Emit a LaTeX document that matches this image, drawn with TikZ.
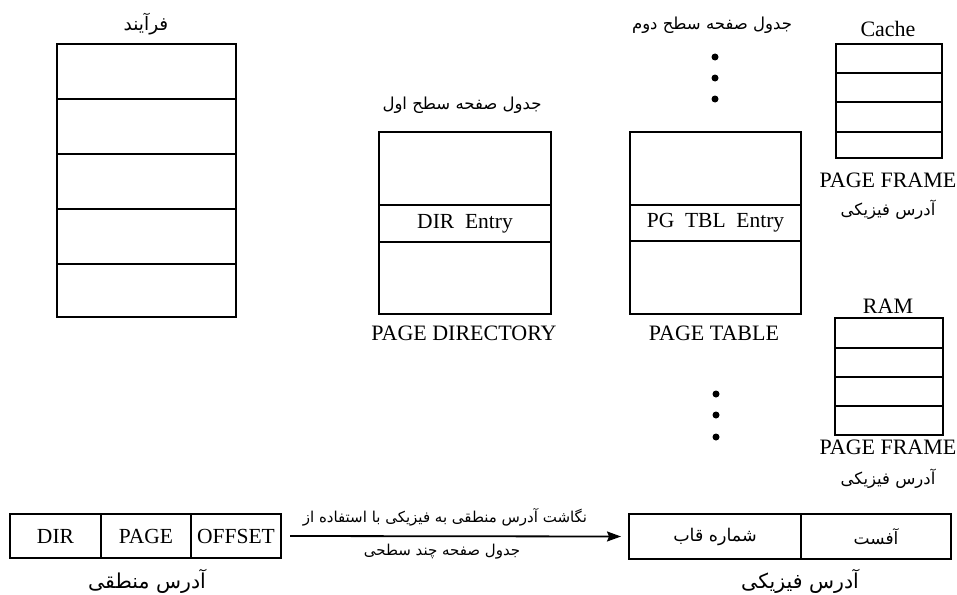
\documentclass[tikz,border=0pt]{standalone}
\usepackage{fontspec}
\setmainfont{Liberation Serif}
\newfontfamily\arabicfont[Script=Arabic]{DejaVu Sans}
\TeXXeTstate=1
\usetikzlibrary{arrows.meta}
\newcommand{\fa}[1]{{\arabicfont\beginR #1\endR}}
\begin{document}
\begin{tikzpicture}[x=1pt,y=-1pt,
  cell/.style={draw,line width=2pt,inner sep=0pt,anchor=north west,font=\fontsize{21.5}{24}\selectfont},
  lat/.style={font=\fontsize{22}{25}\selectfont,inner sep=0pt},
  per/.style={font=\fontsize{16.5}{19}\selectfont\arabicfont,inner sep=0pt},
  perbig/.style={font=\fontsize{20.5}{23}\selectfont\arabicfont,inner sep=0pt},
  dot/.style={circle,fill,inner sep=0pt,minimum size=7pt}]
\useasboundingbox (0,0) rectangle (957,594);
% process
\node[per,font=\fontsize{18.5}{21}\selectfont\arabicfont] (ptitle) at (146,24) {\fa{فرآیند}};
\node[cell,minimum width=179pt,minimum height=55pt] (p1) at (56,43) {};
\node[cell,minimum width=179pt,minimum height=55pt] (p2) at (56,98) {};
\node[cell,minimum width=179pt,minimum height=55pt] (p3) at (56,153) {};
\node[cell,minimum width=179pt,minimum height=55pt] (p4) at (56,208) {};
\node[cell,minimum width=179pt,minimum height=53pt] (p5) at (56,263) {};
% page directory
\node[per] (dtitle) at (462,105) {\fa{جدول صفحه سطح اول}};
\node[cell,minimum width=172pt,minimum height=73pt] (d1) at (378,131) {};
\node[cell,minimum width=172pt,minimum height=37pt] (d2) at (378,204) {DIR\ \ Entry};
\node[cell,minimum width=172pt,minimum height=72pt] (d3) at (378,241) {};
\node[lat] (dlab) at (464,333) {PAGE DIRECTORY};
% page table
\node[per] (ttitle) at (712,25) {\fa{جدول صفحه سطح دوم}};
\node[dot] (td1) at (715,57) {};
\node[dot] (td2) at (715,78) {};
\node[dot] (td3) at (715,99) {};
\node[cell,minimum width=171pt,minimum height=73pt] (t1) at (629,131) {};
\node[cell,minimum width=171pt,minimum height=36pt] (t2) at (629,204) {PG\ \ TBL\ \ Entry};
\node[cell,minimum width=171pt,minimum height=73pt] (t3) at (629,240) {};
\node[lat] (tlab) at (714,333) {PAGE TABLE};
\node[dot] (bd1) at (716,394) {};
\node[dot] (bd2) at (716,415) {};
\node[dot] (bd3) at (716,437) {};
% cache
\node[lat] (ctitle) at (888,29) {Cache};
\node[cell,minimum width=106pt,minimum height=29pt] (c1) at (835,43) {};
\node[cell,minimum width=106pt,minimum height=29pt] (c2) at (835,72) {};
\node[cell,minimum width=106pt,minimum height=30pt] (c3) at (835,101) {};
\node[cell,minimum width=106pt,minimum height=26pt] (c4) at (835,131) {};
\node[lat] (cpf) at (888,180) {PAGE FRAME};
\node[per] (cpa) at (888,210) {\fa{آدرس فیزیکی}};
% ram
\node[lat] (rtitle) at (888,306) {RAM};
\node[cell,minimum width=108pt,minimum height=30pt] (r1) at (834,317) {};
\node[cell,minimum width=108pt,minimum height=29pt] (r2) at (834,347) {};
\node[cell,minimum width=108pt,minimum height=29pt] (r3) at (834,376) {};
\node[cell,minimum width=108pt,minimum height=29pt] (r4) at (834,405) {};
\node[lat] (rpf) at (888,447) {PAGE FRAME};
\node[per] (rpa) at (888,479) {\fa{آدرس فیزیکی}};
% logical address
\node[cell,minimum width=91pt,minimum height=44pt] (la1) at (9,513) {DIR};
\node[cell,minimum width=90pt,minimum height=44pt] (la2) at (100,513) {PAGE};
\node[cell,minimum width=90pt,minimum height=44pt] (la3) at (190,513) {OFFSET};
\node[perbig] (lalab) at (147,581) {\fa{آدرس منطقی}};
% physical address
\node[cell,minimum width=172pt,minimum height=45pt] (pa1) at (628,513) {\fontsize{17.5}{20}\selectfont\fa{شماره قاب}};
\node[cell,minimum width=150pt,minimum height=45pt] (pa2) at (800,513) {\fontsize{17}{20}\selectfont\fa{آفست}};
\node[perbig] (palab) at (800,581) {\fa{آدرس فیزیکی}};
% arrow
\draw[line width=1.8pt,-{Stealth[length=14pt,width=10pt,inset=2pt]}] (la3.east) ++(8pt,0) coordinate (as) -- (pa1.west -| 621,0) coordinate (ae);
\node[per,font=\fontsize{15}{18}\selectfont\arabicfont] (up) at (445,517) {\fa{نگاشت آدرس منطقی به فیزیکی با استفاده از}};
\node[per,font=\fontsize{15}{18}\selectfont\arabicfont] (dn) at (442,552) {\fa{جدول صفحه چند سطحی}};
\end{tikzpicture}
\end{document}
